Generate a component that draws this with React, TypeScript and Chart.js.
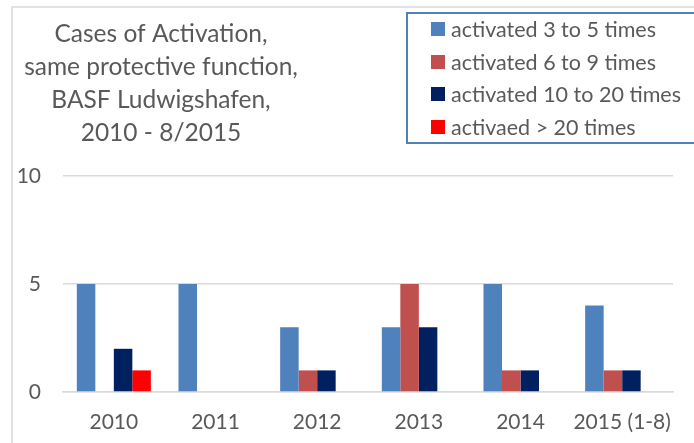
import React, { useEffect, useRef } from "react";
import { Chart, registerables } from "chart.js";

Chart.register(...registerables);

const CATEGORIES = ["2010", "2011", "2012", "2013", "2014", "2015 (1-8)"];
const SERIES_LABELS = [
  "activated 3 to 5 times",
  "activated 6 to 9 times",
  "activated 10 to 20 times",
  "activaed > 20 times",
];
const ACT_3_5 = [5, 5, 3, 3, 5, 4];
const ACT_6_9 = [0, 0, 1, 5, 1, 1];
const ACT_10_20 = [2, 0, 1, 3, 1, 1];
const ACT_OVER_20 = [1, 0, 0, 0, 0, 0];
const SERIES_COLORS = ["#4F81BD", "#C0504D", "#002060", "#FF0000"];
const TITLE_LINES = [
  "Cases of Activation,",
  "same protective function,",
  "BASF Ludwigshafen,",
  "2010 - 8/2015",
];
const Y_MIN = 0;
const Y_MAX = 10;
const Y_STEP = 5;

const FONT = "Lato, 'Open Sans', sans-serif";
const TEXT_COLOR = "#595959";

const decorPlugin = {
  id: "decor",
  beforeDraw(chart: any) {
    const ctx = chart.ctx;
    ctx.save();
    ctx.fillStyle = "#ffffff";
    ctx.fillRect(0, 0, chart.width, chart.height);
    ctx.strokeStyle = "#d9d9d9";
    ctx.lineWidth = 1.5;
    ctx.strokeRect(12, 7, chart.width + 20, chart.height + 20);
    ctx.restore();
  },
  afterDraw(chart: any) {
    const ctx = chart.ctx;
    ctx.save();
    // Title
    ctx.fillStyle = TEXT_COLOR;
    ctx.font = `24.5px ${FONT}`;
    ctx.textAlign = "center";
    ctx.textBaseline = "middle";
    const titleYs = [34, 67, 100, 133];
    TITLE_LINES.forEach((line, i) => ctx.fillText(line, 161, titleYs[i]));
    // Legend box
    ctx.strokeStyle = "#4F81BD";
    ctx.lineWidth = 2;
    ctx.strokeRect(407, 13, 320, 130);
    const rowYs = [29, 62, 94, 127];
    ctx.font = `21.5px ${FONT}`;
    ctx.textAlign = "left";
    chart.data.datasets.forEach((ds: any, i: number) => {
      ctx.fillStyle = ds.backgroundColor;
      ctx.fillRect(431, rowYs[i] - 7, 14, 14);
      ctx.fillStyle = TEXT_COLOR;
      ctx.fillText(ds.label, 451, rowYs[i] + 1);
    });
    ctx.restore();
  },
};

export default function App() {
  const ref = useRef<HTMLCanvasElement>(null);
  useEffect(() => {
    document.body.style.margin = "0";
    const canvas = ref.current!;
    const seriesData = [ACT_3_5, ACT_6_9, ACT_10_20, ACT_OVER_20];
    const chart = new Chart(canvas, {
      type: "bar",
      data: {
        labels: CATEGORIES,
        datasets: SERIES_LABELS.map((label, i) => ({
          label,
          data: seriesData[i],
          backgroundColor: SERIES_COLORS[i],
          borderWidth: 0,
          barPercentage: 1,
          categoryPercentage: 0.728,
        })),
      },
      options: {
        responsive: false,
        animation: false,
        devicePixelRatio: 1,
        layout: { padding: { top: 176, right: 21, left: 0, bottom: 0 } },
        plugins: {
          legend: { display: false },
          title: { display: false },
          tooltip: { enabled: false },
        },
        scales: {
          x: {
            grid: { display: false, drawTicks: false },
            border: { display: true, color: "#d9d9d9", width: 1.5 },
            ticks: {
              color: TEXT_COLOR,
              font: { family: FONT, size: 21 },
              padding: 18,
              maxRotation: 0,
              autoSkip: false,
            },
            afterFit(scale: any) {
              scale.height = 51;
            },
          },
          y: {
            min: Y_MIN,
            max: Y_MAX,
            grid: { color: "#d9d9d9", lineWidth: 1.5, drawTicks: false },
            border: { display: false },
            ticks: {
              stepSize: Y_STEP,
              color: TEXT_COLOR,
              font: { family: FONT, size: 21 },
              padding: 22,
            },
            afterFit(scale: any) {
              scale.width = 63;
            },
          },
        },
      },
      plugins: [decorPlugin],
    });
    return () => chart.destroy();
  }, []);
  return (
    <canvas
      ref={ref}
      width={694}
      height={443}
      style={{ display: "block", width: 694, height: 443 }}
    />
  );
}
